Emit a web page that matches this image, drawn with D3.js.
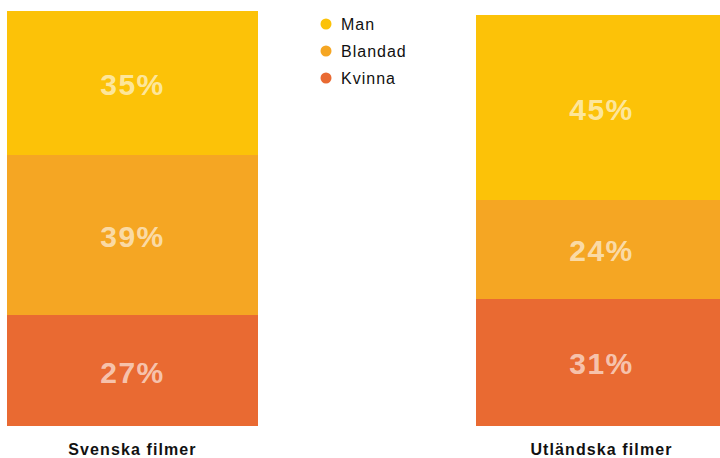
<!DOCTYPE html>
<html>
<head>
<meta charset="utf-8">
<style>
    body { margin: 0; background: #fff; }
    svg { display: block; }
    text { font-family: "Liberation Sans", Arial, sans-serif; }
    rect { shape-rendering: crispEdges; }
    .pct { font-size: 30px; font-weight: bold; fill: #fff; fill-opacity: 0.62; letter-spacing: 1.5px; text-anchor: middle; }
    .cat { font-size: 16px; font-weight: bold; fill: #111; letter-spacing: 1.1px; text-anchor: middle; }
    .legend text { font-size: 16px; fill: #111; letter-spacing: 1px; }
</style>
</head>
<body>
<svg width="720" height="458"></svg>
<script src="https://d3js.org/d3.v7.min.js"></script>
<script>
    let categories = ["Svenska filmer", "Utländska filmer"];
    let keys = ["Kvinna", "Blandad", "Man"];
    let kvinna = [27, 31];
    let blandad = [39, 24];
    let man = [35, 45];
    let legendKeys = ["Man", "Blandad", "Kvinna"];

    let colors = { "Man": "#FCC208", "Blandad": "#F5A623", "Kvinna": "#E96A32" };

    let data = categories.map((c, i) => ({
        cat: c, Kvinna: kvinna[i], Blandad: blandad[i], Man: man[i]
    }));

    let svg = d3.select("svg");

    // bars are 251px wide, the right one runs past the edge of the frame
    let barW = 251;
    let x = d3.scalePoint()
        .domain(categories)
        .range([7, 476]);

    let y = d3.scaleLinear()
        .domain([0, 101])
        .range([426, 11]);

    let series = d3.stack().keys(keys)(data);

    let layers = svg.append("g")
        .selectAll("g")
        .data(series)
        .join("g")
        .attr("fill", d => colors[d.key]);

    layers.selectAll("rect")
        .data(d => d)
        .join("rect")
        .attr("x", d => x(d.data.cat))
        .attr("width", barW)
        .attr("y", d => y(d[1]))
        .attr("height", d => y(d[0]) - y(d[1]));

    layers.selectAll("text")
        .data(d => d.map(v => Object.assign({ key: d.key }, v)))
        .join("text")
        .attr("class", "pct")
        .attr("x", d => x(d.data.cat) + barW / 2)
        .attr("y", d => (y(d[0]) + y(d[1])) / 2 + 12)
        .text(d => d.data[d.key] + "%");

    svg.append("g")
        .selectAll("text")
        .data(categories)
        .join("text")
        .attr("class", "cat")
        .attr("x", d => x(d) + barW / 2)
        .attr("y", 455)
        .text(d => d);

    let legend = svg.append("g")
        .attr("class", "legend")
        .selectAll("g")
        .data(legendKeys)
        .join("g")
        .attr("transform", (d, i) => `translate(326,${24 + i * 27})`);

    legend.append("circle")
        .attr("r", 5.5)
        .attr("fill", d => colors[d]);

    legend.append("text")
        .attr("x", 15)
        .attr("y", 5.5)
        .text(d => d);
</script>
</body>
</html>
